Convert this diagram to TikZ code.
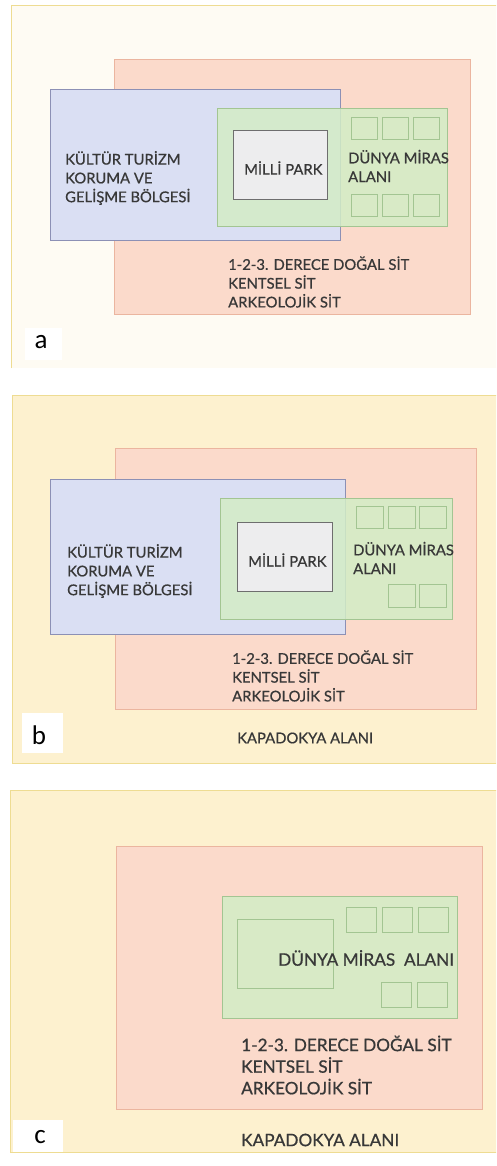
\documentclass[tikz,border=0pt]{standalone}
\usepackage{fontspec}
\setmainfont{Lato}[FakeBold=0.7]
\newfontfamily\harffont{Carlito}
\definecolor{kapadokya}{HTML}{FDF1CF}
\definecolor{kapadokyacizgi}{HTML}{EEDC92}
\definecolor{sitdolgu}{HTML}{FBDACB}
\definecolor{sitcizgi}{HTML}{EBB59F}
\definecolor{kulturdolgu}{HTML}{DADFF3}
\definecolor{kulturcizgi}{HTML}{8C90B5}
\definecolor{mirasdolgu}{HTML}{D3EDC6}
\definecolor{mirascizgi}{HTML}{A3C592}
\definecolor{parkdolgu}{HTML}{EDEDEE}
\definecolor{parkcizgi}{HTML}{6E6E6E}
\definecolor{yazirengi}{HTML}{383838}

\begin{document}
\begin{tikzpicture}[x=1pt,y=-1pt,
    alan/.style={fill=kapadokya,draw=kapadokyacizgi,line width=0.8pt},
    sit/.style={fill=sitdolgu,draw=sitcizgi,line width=0.8pt},
    kultur/.style={fill=kulturdolgu,draw=kulturcizgi,line width=0.8pt},
    miras/.style={fill=mirasdolgu,fill opacity=0.85,draw=mirascizgi,line width=0.8pt},
    kare/.style={draw=mirascizgi,line width=0.8pt},
    park/.style={fill=parkdolgu,draw=parkcizgi,line width=0.8pt},
    yazi/.style={text=yazirengi,font=\fontsize{14.8}{18.8}\selectfont,align=left,anchor=west,inner sep=0pt},
    yaziC/.style={yazi,font=\fontsize{17.2}{21.6}\selectfont},
    harf/.style={font=\harffont\fontsize{27}{27}\selectfont,inner sep=0pt}]
  \clip (0,0) rectangle (496,1166);
  \fill[white] (0,0) rectangle (496,1166);
  % a
  \fill[kapadokya!25] (11,5) rectangle (500,368);
  \draw[kapadokyacizgi,line width=0.8pt] (11,368) -- (11,5) -- (500,5);
  \draw[sit] (114,59) rectangle (470,314);
  \draw[kultur] (50,89) rectangle (340,240);
  \draw[miras] (217,108) rectangle (447,226);
  \draw[park] (233,130) rectangle (327,199);
  \foreach \x in {351,382,413} {
    \draw[kare] (\x,117) rectangle ++(26,22);
    \draw[kare] (\x,194) rectangle ++(26,22);
  }
  \node[yazi] (kulturA) at (65,178) {KÜLTÜR TURİZM\\KORUMA VE\\GELİŞME BÖLGESİ};
  \node[yazi] (parkA) at (244,168) {MİLLİ PARK};
  \node[yazi] (mirasA) at (348,166) {DÜNYA MİRAS\\ALANI};
  \node[yazi] (sitA) at (228,282) {1-2-3. DERECE DOĞAL SİT\\KENTSEL SİT\\ARKEOLOJİK SİT};
  \fill[white] (25,328) rectangle (62,360);
  \node[harf] (etiketA) at (41,342) {a};
  % b
  \draw[alan] (12,395) rectangle (510,763);
  \draw[sit] (115,448) rectangle (476,709);
  \draw[kultur] (50,479) rectangle (345,634);
  \draw[miras] (220,498) rectangle (452,619);
  \draw[park] (237,522) rectangle (332,591);
  \foreach \x in {356,388,419} \draw[kare] (\x,506) rectangle ++(27,22);
  \foreach \x in {388,419} \draw[kare] (\x,584) rectangle ++(27,23);
  \node[yazi] (kulturB) at (67,571) {KÜLTÜR TURİZM\\KORUMA VE\\GELİŞME BÖLGESİ};
  \node[yazi] (parkB) at (248,560) {MİLLİ PARK};
  \node[yazi] (mirasB) at (353,558) {DÜNYA MİRAS\\ALANI};
  \node[yazi] (sitB) at (232,676) {1-2-3. DERECE DOĞAL SİT\\KENTSEL SİT\\ARKEOLOJİK SİT};
  \node[yazi] (kapadokyaB) at (237,738) {KAPADOKYA ALANI};
  \fill[white] (22,713) rectangle (63,753);
  \node[harf] (etiketB) at (39,735) {b};
  % c
  \draw[alan] (10,790) rectangle (510,1152);
  \draw[sit] (116,846) rectangle (482,1109);
  \draw[miras] (222,896) rectangle (457,1018);
  \draw[kare] (237,919) rectangle (333,988);
  \foreach \x in {346,382,418} \draw[kare] (\x,907) rectangle ++(30,25);
  \foreach \x in {381,417} \draw[kare] (\x,982) rectangle ++(30,25);
  \node[yaziC] (mirasC) at (278,958) {DÜNYA MİRAS\ \ ALANI};
  \node[yaziC] (sitC) at (241,1065) {1-2-3. DERECE DOĞAL SİT\\KENTSEL SİT\\ARKEOLOJİK SİT};
  \node[yaziC] (kapadokyaC) at (241,1140) {KAPADOKYA ALANI};
  \fill[white] (13,1120) rectangle (63,1152);
  \node[harf] (etiketC) at (40,1137) {c};
\end{tikzpicture}
\end{document}
